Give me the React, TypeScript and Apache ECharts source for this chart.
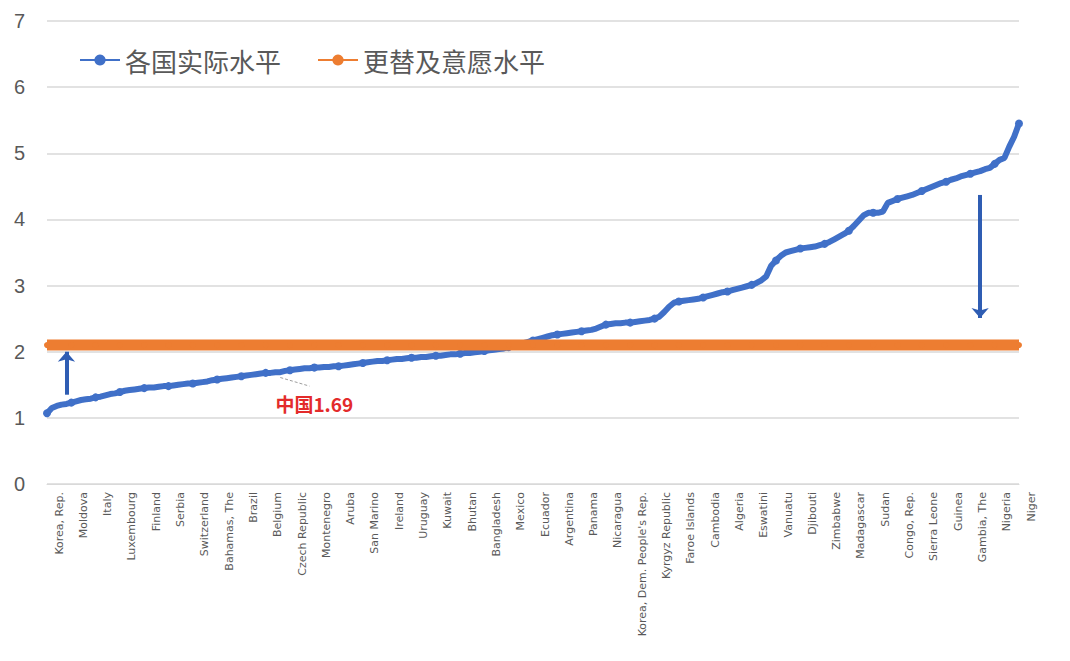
import React, { useEffect, useRef } from "react";
import * as echarts from "echarts";

// Countries sorted by total fertility rate (ascending)
const countries: string[] = [
  "Korea, Rep.", "Hong Kong SAR, China", "Macao SAR, China", "Puerto Rico", "Singapore", "Moldova", "Malta", "Ukraine", "Bosnia and Herzegovina", "Spain",
  "Italy", "Cyprus", "Mauritius", "Greece", "Japan", "Luxembourg", "Portugal", "Poland", "Canada", "Croatia",
  "Finland", "Albania", "Thailand", "Austria", "North Macedonia", "Serbia", "Belarus", "Qatar", "Bulgaria", "Germany",
  "Switzerland", "Hungary", "Estonia", "Slovak Republic", "Norway", "Bahamas, The", "Latvia", "Armenia", "Lithuania", "Trinidad and Tobago",
  "Brazil", "Chile", "Barbados", "Cuba", "Costa Rica", "Belgium", "Netherlands", "Slovenia", "China", "United Kingdom",
  "Czech Republic", "United Arab Emirates", "Russian Federation", "Brunei Darussalam", "Denmark", "Montenegro", "Iceland", "Australia", "New Zealand", "Sweden",
  "Aruba", "Curacao", "Channel Islands", "Isle of Man", "Liechtenstein", "San Marino", "New Caledonia", "French Polynesia", "Guam", "Virgin Islands (U.S.)",
  "Ireland", "United States", "Colombia", "Romania", "St. Lucia", "Uruguay", "Vietnam", "Lebanon", "Bahrain", "France",
  "Kuwait", "Iran, Islamic Rep.", "Maldives", "Turkey", "El Salvador", "Bhutan", "St. Vincent and the Grenadines", "Antigua and Barbuda", "Malaysia", "Grenada",
  "Bangladesh", "Jamaica", "Nepal", "Sri Lanka", "Tunisia", "Mexico", "India", "Peru", "Azerbaijan", "Oman",
  "Ecuador", "Dominican Republic", "Myanmar", "Saudi Arabia", "Indonesia", "Argentina", "Suriname", "Georgia", "Morocco", "Venezuela, RB",
  "Panama", "Cabo Verde", "Guyana", "Belize", "Paraguay", "Nicaragua", "Seychelles", "Fiji", "Honduras", "Libya",
  "Korea, Dem. People's Rep.", "Kazakhstan", "Uzbekistan", "Mongolia", "Philippines", "Kyrgyz Republic", "Turkmenistan", "Botswana", "Guatemala", "Lao PDR",
  "Faroe Islands", "Greenland", "Kosovo", "Marshall Islands",
  "South Africa", "Cambodia", "Bolivia", "Israel", "Haiti", "Syrian Arab Republic", "Algeria", "Micronesia, Fed. Sts.", "Tajikistan", "Egypt, Arab Rep.",
  "Jordan", "Eswatini", "Lesotho", "Namibia", "West Bank and Gaza", "Papua New Guinea", "Vanuatu", "Tonga", "Kiribati", "Samoa",
  "Timor-Leste", "Djibouti", "Solomon Islands", "Pakistan", "Iraq", "Yemen, Rep.", "Zimbabwe", "Gabon", "Kenya", "Comoros",
  "Rwanda", "Madagascar", "Ghana", "Equatorial Guinea", "Sao Tome and Principe", "Mauritania", "Sudan", "Eritrea", "Liberia", "Ethiopia",
  "Togo", "Congo, Rep.", "Senegal", "Malawi", "Zambia", "Guinea-Bissau", "Sierra Leone", "Cameroon", "Afghanistan", "Benin",
  "Cote d'Ivoire", "Guinea", "Burkina Faso", "Uganda", "Mozambique", "Tanzania", "Gambia, The", "Burundi", "South Sudan", "Angola",
  "Central African Republic", "Nigeria", "Mali", "Congo, Dem. Rep.", "Chad", "Somalia", "Niger",
];

// Actual fertility level of each country
const actualLevel: number[] = [
  1.07, 1.15, 1.18, 1.20, 1.21, 1.23, 1.25, 1.27, 1.28, 1.29,
  1.31, 1.32, 1.34, 1.36, 1.37, 1.39, 1.41, 1.42, 1.43, 1.44,
  1.45, 1.46, 1.46, 1.47, 1.48, 1.48, 1.49, 1.50, 1.51, 1.52,
  1.52, 1.53, 1.54, 1.55, 1.57, 1.58, 1.59, 1.60, 1.61, 1.62,
  1.63, 1.64, 1.65, 1.66, 1.67, 1.68, 1.68, 1.69, 1.69, 1.71,
  1.72, 1.73, 1.74, 1.75, 1.75, 1.76, 1.76, 1.77, 1.77, 1.78,
  1.78, 1.79, 1.80, 1.81, 1.82, 1.83, 1.84, 1.85, 1.86, 1.86,
  1.87, 1.88, 1.89, 1.89, 1.90, 1.91, 1.91, 1.92, 1.92, 1.93,
  1.94, 1.94, 1.95, 1.96, 1.96, 1.97, 1.98, 1.98, 1.99, 2.00,
  2.01, 2.02, 2.03, 2.04, 2.05, 2.07, 2.09, 2.11, 2.13, 2.15,
  2.17, 2.19, 2.21, 2.23, 2.25, 2.26, 2.27, 2.28, 2.29, 2.30,
  2.31, 2.32, 2.33, 2.35, 2.38, 2.41, 2.42, 2.43, 2.43, 2.44,
  2.44, 2.45, 2.46, 2.47, 2.48, 2.50, 2.53, 2.60, 2.68, 2.74,
  2.76, 2.77, 2.78, 2.79, 2.80, 2.82, 2.84, 2.86, 2.88, 2.90,
  2.91, 2.93, 2.95, 2.97, 2.99, 3.01, 3.04, 3.08, 3.14, 3.30,
  3.38, 3.45, 3.50, 3.52, 3.54, 3.56, 3.57, 3.58, 3.59, 3.61,
  3.63, 3.66, 3.70, 3.74, 3.78, 3.83, 3.90, 3.98, 4.06, 4.10,
  4.10, 4.10, 4.12, 4.25, 4.28, 4.31, 4.33, 4.35, 4.37, 4.40,
  4.43, 4.46, 4.49, 4.52, 4.55, 4.57, 4.60, 4.62, 4.65, 4.67,
  4.69, 4.71, 4.73, 4.76, 4.78, 4.84, 4.90, 4.93, 5.10, 5.25,
  5.45,
];

// Replacement / desired fertility level
const replacementLevel = 2.1;

// Gap arrows: [country index, from value, to value]
const gapArrows: [number, number, number][] = [
  [4, 1.35, 2.0],
  [192, 4.37, 2.51],
];

const chinaIndex = countries.indexOf("China");

const yTicks = { min: 0, max: 7, interval: 1 };

const BLUE = "#4070C8";
const ORANGE = "#ED7D31";
const ARROW = "#2F5DB3";
const GREY_TEXT = "#595959";
const FONT = "'Noto Sans CJK SC', 'Noto Sans', sans-serif";

export default function App() {
  const ref = useRef<HTMLDivElement>(null);

  useEffect(() => {
    if (!ref.current) return;
    const chart = echarts.init(ref.current, undefined, { renderer: "svg" });

    const arrowLines = gapArrows.map(([idx, from, to]) => [
      { coord: [countries[idx], from], symbol: "none" },
      { coord: [countries[idx], to], symbol: "arrow" },
    ]);

    chart.setOption({
      animation: false,
      backgroundColor: "#ffffff",
      textStyle: { fontFamily: FONT },
      legend: {
        left: 74,
        top: 42,
        itemWidth: 40,
        itemHeight: 14,
        itemGap: 36,
        textStyle: { fontSize: 26, color: GREY_TEXT, fontFamily: FONT },
        data: ["各国实际水平", "更替及意愿水平"],
      },
      grid: { left: 47, right: 51, top: 21, bottom: 177, containLabel: false },
      xAxis: {
        type: "category",
        data: countries,
        boundaryGap: false,
        axisLine: { show: true, lineStyle: { color: "#d9d9d9", width: 1 } },
        axisTick: { show: false },
        axisLabel: {
          interval: 4,
          rotate: 90,
          fontSize: 11,
          color: GREY_TEXT,
          margin: 8,
          verticalAlign: "top",
          lineHeight: 24,
          fontFamily: "'DejaVu Sans', sans-serif",
        },
      },
      yAxis: {
        type: "value",
        min: yTicks.min,
        max: yTicks.max,
        interval: yTicks.interval,
        axisLine: { show: false },
        axisTick: { show: false },
        axisLabel: { fontSize: 20, color: GREY_TEXT, margin: 22, fontFamily: "'Liberation Sans', sans-serif" },
        splitLine: { lineStyle: { color: "#d9d9d9", width: 1.5 } },
      },
      series: [
        {
          name: "各国实际水平",
          type: "line",
          data: actualLevel,
          symbol: "circle",
          symbolSize: 8,
          lineStyle: { color: BLUE, width: 6 },
          itemStyle: { color: BLUE },
          z: 2,
          markLine: {
            silent: true,
            animation: false,
            symbolSize: [13, 10],
            lineStyle: { color: ARROW, width: 4, type: "solid" },
            label: { show: false },
            emphasis: { disabled: true },
            data: arrowLines,
          },
        },
        {
          name: "更替及意愿水平",
          type: "line",
          data: countries.map(() => replacementLevel),
          symbol: "circle",
          symbolSize: 6,
          lineStyle: { color: ORANGE, width: 11 },
          itemStyle: { color: ORANGE },
          z: 3,
          markLine: {
            silent: true,
            animation: false,
            symbol: ["none", "none"],
            lineStyle: { color: "#9e9e9e", width: 1, type: [3, 2] },
            label: { show: false },
            emphasis: { disabled: true },
            data: [
              [
                { coord: [countries[chinaIndex], actualLevel[chinaIndex] - 0.08] },
                { coord: [countries[chinaIndex + 6], actualLevel[chinaIndex] - 0.21] },
              ],
            ],
          },
          markPoint: {
            silent: true,
            animation: false,
            symbol: "circle",
            symbolSize: 1,
            itemStyle: { color: "rgba(0,0,0,0)" },
            label: {
              show: true,
              position: "inside",
              formatter: () => `中国${actualLevel[chinaIndex].toFixed(2)}`,
              color: "#E32B2B",
              fontSize: 19,
              fontWeight: "bold",
              fontFamily: FONT,
            },
            data: [{ coord: [countries[chinaIndex + 7], actualLevel[chinaIndex] - 0.48] }],
          },
        },
      ],
    });

    return () => chart.dispose();
  }, []);

  return (
    <div
      ref={ref}
      style={{ position: "absolute", left: 0, top: 0, width: 1070, height: 661 }}
    />
  );
}
